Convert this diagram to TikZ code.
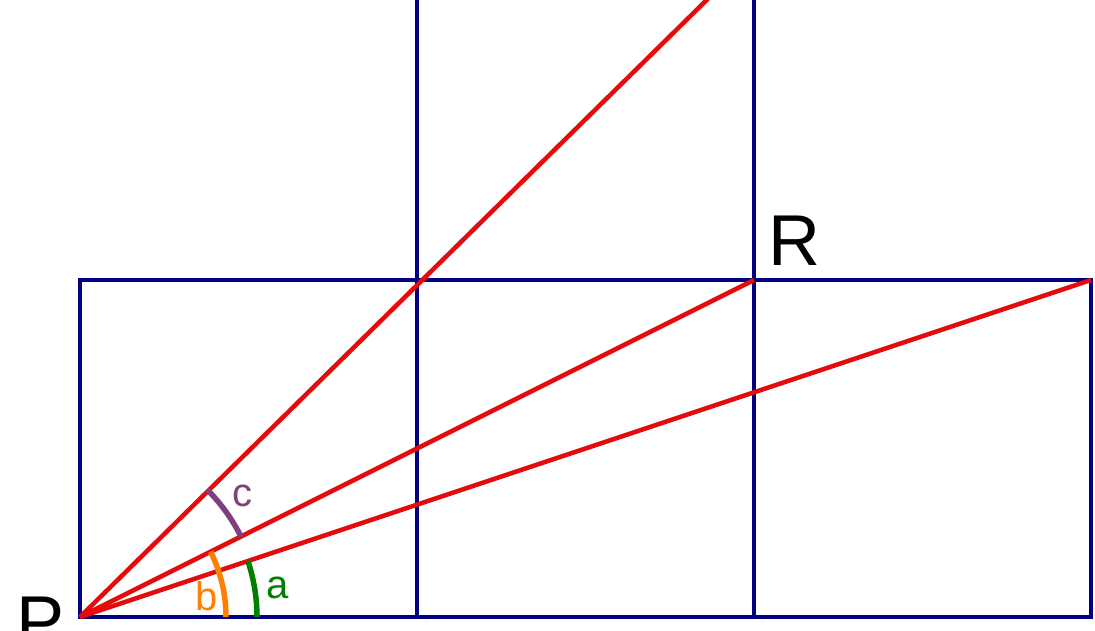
\documentclass[tikz,border=0pt]{standalone}
\usepackage{fontspec}
\setmainfont{Liberation Sans}
\usetikzlibrary{calc}
\definecolor{gridblue}{RGB}{0,0,128}
\definecolor{linered}{RGB}{230,10,10}
\definecolor{anggreen}{RGB}{0,128,0}
\definecolor{angorange}{RGB}{255,128,0}
\definecolor{angpurple}{RGB}{128,64,128}
\begin{document}
\begin{tikzpicture}[x=1pt,y=-1pt,
  gridline/.style={draw=gridblue,line width=4.5pt},
  ray/.style={draw=linered,line width=4.5pt},
  angarc/.style={line width=5.5pt},
  biglab/.style={inner sep=0pt,anchor=base west,font=\fontsize{72}{72}\selectfont},
  smalllab/.style={inner sep=0pt,anchor=base west,font=\fontsize{40}{40}\selectfont}]
\useasboundingbox (0,0) rectangle (1095,630);
\clip (0,0) rectangle (1095,630);
\fill[white] (0,0) rectangle (1095,630);
% grid points
\coordinate (P) at (80,617);
\coordinate (Q1) at (417,617);
\coordinate (Q2) at (754,617);
\coordinate (Q3) at (1091,617);
\coordinate (T0) at (80,280);
\coordinate (T1) at (417,280);
\coordinate (R) at (754,280);
\coordinate (T3) at (1091,280);
\coordinate (U1) at (417,-20);
\coordinate (U2) at (754,-20);
\coordinate (E) at (727,-20);
% grid
\draw[gridline] (P) -- (Q3) -- (T3) -- (T0) -- cycle;
\draw[gridline] (U1) -- (Q1);
\draw[gridline] (U2) -- (Q2);
% rays
\draw[ray] (P) -- (E);
\draw[ray] (P) -- (R);
\draw[ray] (P) -- (T3);
% angle arcs
\draw[angarc,draw=anggreen] ($(P)+(177,0)$) arc[start angle=0,end angle=-18.43,radius=177];
\draw[angarc,draw=angorange] ($(P)+(146,0)$) arc[start angle=0,end angle=-26.57,radius=146];
\draw[angarc,draw=angpurple] ($(P)+(-26.57:180)$) arc[start angle=-26.57,end angle=-45,radius=180];
% labels
\node[biglab] (labR) at (768,265) {R};
\node[biglab] (labP) at (16,646) {P};
\node[smalllab,text=anggreen] (laba) at (266,598) {a};
\node[smalllab,text=angorange] (labb) at (195,610) {b};
\node[smalllab,text=angpurple] (labc) at (232,506) {c};
\end{tikzpicture}
\end{document}
